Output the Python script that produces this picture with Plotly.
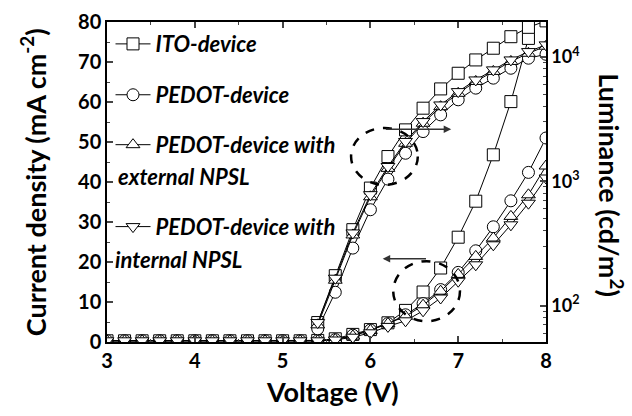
import plotly.graph_objects as go

# ---------------- data ----------------
voltage = [3.0, 3.2, 3.4, 3.6, 3.8, 4.0, 4.2, 4.4, 4.6, 4.8, 5.0, 5.2, 5.4,
           5.6, 5.8, 6.0, 6.2, 6.4, 6.6, 6.8, 7.0, 7.2, 7.4, 7.6, 7.8, 8.0]

j_ito = [0.3, 0.3, 0.3, 0.3, 0.3, 0.3, 0.3, 0.3, 0.3, 0.3, 0.3, 0.3, 0.4,
         0.8, 1.9, 3.1, 4.8, 7.9, 12.5, 18.5, 26.2, 35.2, 46.8, 60.1, 75.9, 92.0]
j_pedot = [0.3, 0.3, 0.3, 0.3, 0.3, 0.3, 0.3, 0.3, 0.3, 0.3, 0.3, 0.3, 0.3,
           0.6, 1.7, 3.0, 4.6, 6.8, 9.6, 13.1, 17.4, 22.8, 28.8, 35.3, 42.4, 51.0]
j_ext = [0.3, 0.3, 0.3, 0.3, 0.3, 0.3, 0.3, 0.3, 0.3, 0.3, 0.3, 0.3, 0.3,
         0.6, 1.5, 2.9, 4.6, 6.4, 9.2, 12.7, 16.9, 21.4, 26.0, 31.4, 36.8, 44.0]
j_int = [0.3, 0.3, 0.3, 0.3, 0.3, 0.3, 0.3, 0.3, 0.3, 0.3, 0.3, 0.3, 0.3,
         0.5, 1.2, 2.3, 3.9, 5.3, 7.8, 11.0, 15.2, 19.3, 24.3, 29.3, 34.7, 41.0]

voltage_lum = [5.4, 5.6, 5.8, 6.0, 6.2, 6.4, 6.6, 6.8, 7.0, 7.2, 7.4, 7.6, 7.8, 8.0]
lum_ito = [73, 174, 408, 881, 1580, 2590, 3870, 5530, 7390, 9460, 11750, 14550, 17300, 19500]
lum_pedot = [65, 128, 290, 590, 1040, 1680, 2510, 3420, 4520, 5610, 6750, 8110, 9770, 10500]
lum_ext = [70, 160, 370, 750, 1270, 2020, 2930, 3980, 5100, 6350, 7650, 9200, 10700, 12200]
lum_int = [73, 166, 384, 780, 1315, 2090, 3020, 4110, 5260, 6530, 7870, 9460, 11040, 12500]

names = ["ITO-device", "PEDOT-device", "PEDOT-device with", "PEDOT-device with"]
symbols = ["square", "circle", "triangle-up", "triangle-down"]
j_series = [j_ito, j_pedot, j_ext, j_int]
lum_series = [lum_ito, lum_pedot, lum_ext, lum_int]

left_ticks = [0, 10, 20, 30, 40, 50, 60, 70, 80]
bottom_ticks = [3, 4, 5, 6, 7, 8]
right_ticks = [100, 1000, 10000]
right_ticktext = ["10<sup>2</sup>", "10<sup>3</sup>", "10<sup>4</sup>"]
right_minor = [60, 70, 80, 90, 200, 300, 400, 500, 600, 700, 800, 900,
               2000, 3000, 4000, 5000, 6000, 7000, 8000, 9000]

FONT = "Lato"
fig = go.Figure()

legend_ids = ["legend", "legend2", "legend3", "legend4"]
for i in range(4):
    mk = dict(symbol=symbols[i], size=12, color="white",
              line=dict(color="black", width=1))
    fig.add_trace(go.Scatter(
        x=voltage, y=j_series[i], mode="lines+markers", name="<b><i>%s</i></b>" % names[i],
        line=dict(color="black", width=1), marker=mk, yaxis="y",
        legend=legend_ids[i], showlegend=True))
for i in range(4):
    mk = dict(symbol=symbols[i], size=12, color="white",
              line=dict(color="black", width=1))
    fig.add_trace(go.Scatter(
        x=voltage_lum, y=lum_series[i], mode="lines+markers", name=names[i],
        line=dict(color="black", width=1), marker=mk, yaxis="y2",
        showlegend=False))

axis_font = dict(family=FONT, size=20, color="black", weight="bold")
leg_font = dict(family=FONT, size=22, color="black")
leg_y = [0.931, 0.772, 0.616, 0.360]
legends = {}
for i, lid in enumerate(legend_ids):
    legends[lid] = dict(x=0.008, y=leg_y[i], xanchor="left", yanchor="middle",
                        bgcolor="rgba(0,0,0,0)", borderwidth=0, font=leg_font,
                        itemwidth=35, tracegroupgap=0)

fig.update_layout(
    width=632, height=416,
    margin=dict(l=107, r=85.5, t=22, b=73.5, autoexpand=False),
    paper_bgcolor="white", plot_bgcolor="white",
    font=dict(family=FONT, color="black"),
    xaxis=dict(range=[3, 8], tickvals=bottom_ticks, ticks="inside", ticklen=6,
               tickwidth=1.5, showline=True, linewidth=1.5, linecolor="black",
               mirror="ticks", showgrid=False, zeroline=False, tickfont=axis_font,
               automargin=False,
               minor=dict(dtick=0.5, tick0=3, ticks="inside", ticklen=3, tickwidth=1,
                          showgrid=False)),
    yaxis=dict(range=[0, 80], tickvals=left_ticks, ticks="inside", ticklen=6,
               tickwidth=1.5, showline=True, linewidth=1.5, linecolor="black",
               showgrid=False, zeroline=False, tickfont=axis_font, automargin=False,
               minor=dict(dtick=5, tick0=0, ticks="inside", ticklen=3, tickwidth=1,
                          showgrid=False)),
    yaxis2=dict(overlaying="y", side="right", type="log", range=[1.707, 4.281],
                tickvals=right_ticks, ticktext=right_ticktext, ticks="inside",
                ticklen=6, tickwidth=1.5, showline=True, linewidth=1.5,
                linecolor="black", showgrid=False, zeroline=False, automargin=False,
                tickfont=dict(family=FONT, size=18, color="black", weight="bold"),
                anchor="x"),
    yaxis3=dict(overlaying="y", side="right", type="log", range=[1.707, 4.281],
                tickvals=right_minor, ticks="inside", ticklen=3, tickwidth=1,
                showticklabels=False, showline=False, showgrid=False,
                zeroline=False, anchor="x", automargin=False),
    **legends,
)

# invisible helper so the minor-tick axis is drawn
fig.add_trace(go.Scatter(x=[None], y=[None], yaxis="y3", showlegend=False,
                         hoverinfo="skip"))

title_font = dict(family=FONT, size=27, color="black", weight="bold")
fig.add_annotation(text="Voltage (V)", xref="paper", yref="paper", x=0.514, y=-0.154,
                   showarrow=False, font=title_font, xanchor="center", yanchor="middle")
fig.add_annotation(text="Current density (mA cm<sup>-2</sup>)", xref="paper", yref="paper",
                   x=-0.168, y=0.5, textangle=-90, showarrow=False, font=title_font,
                   xanchor="center", yanchor="middle")
fig.add_annotation(text="Luminance (cd/m<sup>2</sup>)", xref="paper", yref="paper",
                   x=1.148, y=0.49, textangle=90, showarrow=False, font=title_font,
                   xanchor="center", yanchor="middle")
# wrapped second legend lines
fig.add_annotation(text="<b><i>external NPSL</i></b>", xref="paper", yref="paper",
                   x=0.02, y=0.516, showarrow=False, font=leg_font,
                   xanchor="left", yanchor="middle")
fig.add_annotation(text="<b><i>internal NPSL</i></b>", xref="paper", yref="paper",
                   x=0.014, y=0.257, showarrow=False, font=leg_font,
                   xanchor="left", yanchor="middle")

# dashed ellipses
fig.add_shape(type="circle", xref="x", yref="y", x0=5.78, x1=6.54, y0=39.3, y1=53.5,
              line=dict(color="black", width=2.5, dash="dash"))
fig.add_shape(type="circle", xref="x", yref="y", x0=6.26, x1=7.02, y0=5.2, y1=20.2,
              line=dict(color="black", width=2.5, dash="dash"))
# arrows
fig.add_annotation(x=6.92, y=53.2, ax=6.16, ay=53.2, xref="x", yref="y", axref="x",
                   ayref="y", showarrow=True, arrowhead=2, arrowsize=1, arrowwidth=1.5,
                   arrowcolor="#333333", text="")
fig.add_annotation(x=6.14, y=20.8, ax=6.65, ay=20.8, xref="x", yref="y", axref="x",
                   ayref="y", showarrow=True, arrowhead=2, arrowsize=1, arrowwidth=1.5,
                   arrowcolor="#333333", text="")

fig.write_html("out.html", config={"displayModeBar": False},
               post_script="document.body.style.margin='0px';")
